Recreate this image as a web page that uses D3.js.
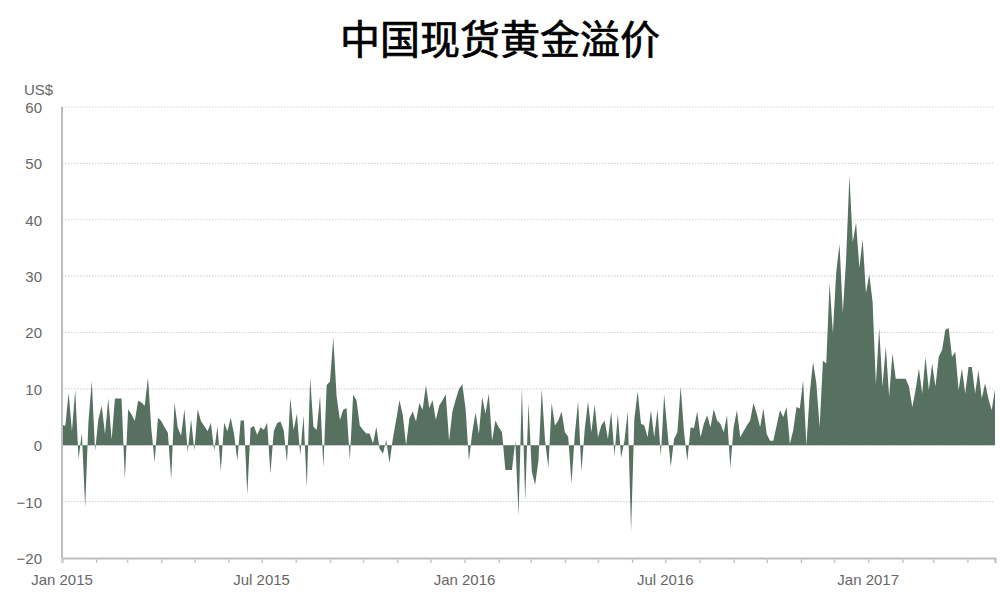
<!DOCTYPE html>
<html>
<head>
<meta charset="utf-8">
<script src="https://cdn.jsdelivr.net/npm/d3@7"></script>
<style>
  html, body { margin: 0; padding: 0; background: #fff; }
  svg { display: block; }
</style>
</head>
<body>
<svg id="chart" width="1000" height="603"></svg>
<script>
const title = "中国现货黄金溢价";
const unitLabel = "US$";
const startDate = "2015-01-01";
const endDate = "2017-04-27";
const stepDays = 3;
const yTicks = [-20, -10, 0, 10, 20, 30, 40, 50, 60];
const xLabelDates = ["2015-01-01", "2015-07-01", "2016-01-01", "2016-07-01", "2017-01-01"];
// Premium (US$/oz), one reading every 3 days from 1 Jan 2015
const premium = [
  3.7, 3.4, 9.3, 2.5, 9.8, -2.5, 2.2, -11, 4.3, 11.4,
  -1, 4.6, 7, 2, 8.3, 1, 8.3, 8.3, 8.3, -6,
  6.4, 5.5, 4.3, 7.9, 7.6, 7, 12, 2.9, -3, 4.9,
  4.3, 3.2, 2.2, -6, 7.6, 3.1, 1.7, 6.4, -1.3, 4.6,
  -0.9, 6.4, 4.3, 3.4, 2.5, 4, -1, 3.4, -4.6, 4,
  2.5, 4.9, 2, -2.7, 4.4, 4.4, -8.7, 3.1, 3.4, 1.8,
  3.2, 2.7, 4, -5, 2.5, 3.9, 4.2, 2.7, -3, 8.4,
  2.7, 5.6, -1.8, 5.3, -7.5, 12, 3.3, 2.7, 8.8, -3.9,
  10.7, 11.3, 19.1, 8.7, 4.5, 6.3, 6.6, -2.6, 9, 8,
  3.5, 2.7, 2.1, 2.1, 0.3, 3.3, -0.6, -1.5, 0.9, -3.2,
  1.2, 4.5, 8, 5.4, 0, 4.8, 6, 4.2, 7.5, 6.3,
  10.7, 6.6, 8, 4.5, 7, 8, 9, 0.8, 6, 8.1,
  10, 10.8, 6.4, -2.8, 2.3, 5.8, 2, 8.5, 5.6, 9.2,
  0.8, 4.4, 3.2, 2.3, -4.4, -4.4, -4.4, 0.8, -12.5, 10.2,
  -9.8, 7.5, -4.7, -7, -2.8, 10, 0.8, -4, 7.5, 3.5,
  4.4, 6, 2.3, 1.5, -6.8, 2, 7.8, -4.7, 2.9, 7.8,
  2.3, 7.2, 1.4, 3.5, 4.4, 1.1, 6, -1.9, 5.6, -2.2,
  0.8, 6, -15.3, 4.7, 9.6, 3.8, 3.5, 1.4, 6.2, 1.4,
  6.4, -1.9, 9, 2.5, -3.8, 1.1, 2.3, 10.4, 2.4, -2.8,
  3.2, 3, 6, 1.4, 3.8, 5.3, 3.2, 6.4, 4.4, 3.8,
  2.3, 5.3, -4, 3.2, 6.2, 1.4, 2.5, 3.5, 4.4, 7.5,
  5.6, 3.2, 6.5, 2, 0.8, 0.8, 3.5, 6.2, 5, 6.8,
  0.2, 2.6, 6.8, 6.5, 11.5, 0, 9.2, 14.8, 11, 3.2,
  15, 14.5, 28.8, 19.9, 30.6, 35.7, 23.5, 33, 47.9, 36,
  39.5, 31.5, 36.5, 27, 30.3, 25.5, 10.8, 20.8, 10.4, 17.5,
  8.6, 16.3, 11.8, 11.8, 11.8, 11.8, 10.4, 6.8, 9.8, 13.6,
  9.2, 15.7, 9.8, 14.5, 10.4, 15.7, 16.9, 20.5, 20.8, 15.7,
  16.6, 9.8, 13.6, 9.2, 13.9, 13.9, 9.2, 13.3, 8.3, 11,
  8.3, 6.2, 10
];

const parse = d3.utcParse("%Y-%m-%d");
const dates = d3.utcDay.range(parse(startDate), parse(endDate), stepDays);
const data = premium.map((v, i) => ({ date: dates[i], value: v }));

const svg = d3.select("#chart");
const margin = { left: 62, right: 5, top: 107, bottom: 45 };
const W = 1000, H = 603;
const x = d3.scaleUtc()
  .domain([parse(startDate), d3.utcDay.offset(parse(startDate), 846)])
  .range([margin.left, W - margin.right]);
const y = d3.scaleLinear().domain([-20, 60]).range([558, 107]);

const font = "'Liberation Sans', Arial, sans-serif";

// Title
svg.append("text")
  .attr("x", 500).attr("y", 54)
  .attr("text-anchor", "middle")
  .attr("font-family", "'Noto Sans CJK SC', sans-serif")
  .attr("font-size", 40)
  .attr("font-weight", 400)
  .attr("fill", "#000")
  .attr("stroke", "#000")
  .attr("stroke-width", 0.7)
  .text(title);

// Gridlines
svg.append("g")
  .selectAll("line")
  .data(yTicks.filter(d => d > -20))
  .join("line")
  .attr("x1", margin.left).attr("x2", W - 7)
  .attr("y1", d => y(d)).attr("y2", d => y(d))
  .attr("stroke", "#d4d4d4")
  .attr("stroke-width", 1.2)
  .attr("stroke-dasharray", "1.5,1.5");

// Area
const area = d3.area()
  .x(d => x(d.date))
  .y0(y(0))
  .y1(d => y(d.value))
  .curve(d3.curveLinear);
svg.append("path")
  .datum(data)
  .attr("d", area)
  .attr("fill", "#567160");

// Y axis labels
const yAxis = d3.axisLeft(y).tickValues(yTicks).tickSize(0).tickPadding(0);
const gy = svg.append("g").attr("transform", `translate(42,0)`).call(yAxis);
gy.select(".domain").remove();
gy.selectAll("text")
  .attr("font-family", font).attr("font-size", 15).attr("fill", "#666")
  .attr("dy", "0.36em");

// Left axis line
svg.append("line")
  .attr("x1", margin.left).attr("x2", margin.left)
  .attr("y1", y(60)).attr("y2", y(-20))
  .attr("stroke", "#bdbdbd").attr("stroke-width", 2);

// X axis (monthly ticks)
const xAxis = d3.axisBottom(x)
  .ticks(d3.utcMonth.every(1))
  .tickSize(5)
  .tickFormat("");
const gx = svg.append("g").attr("transform", `translate(0,${y(-20)})`).call(xAxis);
gx.select(".domain").attr("stroke", "#bdbdbd").attr("stroke-width", 2);
gx.selectAll(".tick line").attr("stroke", "#c8c8c8").attr("stroke-width", 1.5);

// X labels
const fmt = d3.utcFormat("%b %Y");
svg.append("g")
  .selectAll("text")
  .data(xLabelDates.map(parse))
  .join("text")
  .attr("x", d => x(d)).attr("y", 585)
  .attr("text-anchor", "middle")
  .attr("font-family", font).attr("font-size", 15).attr("fill", "#666")
  .text(d => fmt(d));

// Unit label
svg.append("text")
  .attr("x", 24).attr("y", 95)
  .attr("font-family", font).attr("font-size", 15).attr("fill", "#666")
  .text(unitLabel);
</script>
</body>
</html>
